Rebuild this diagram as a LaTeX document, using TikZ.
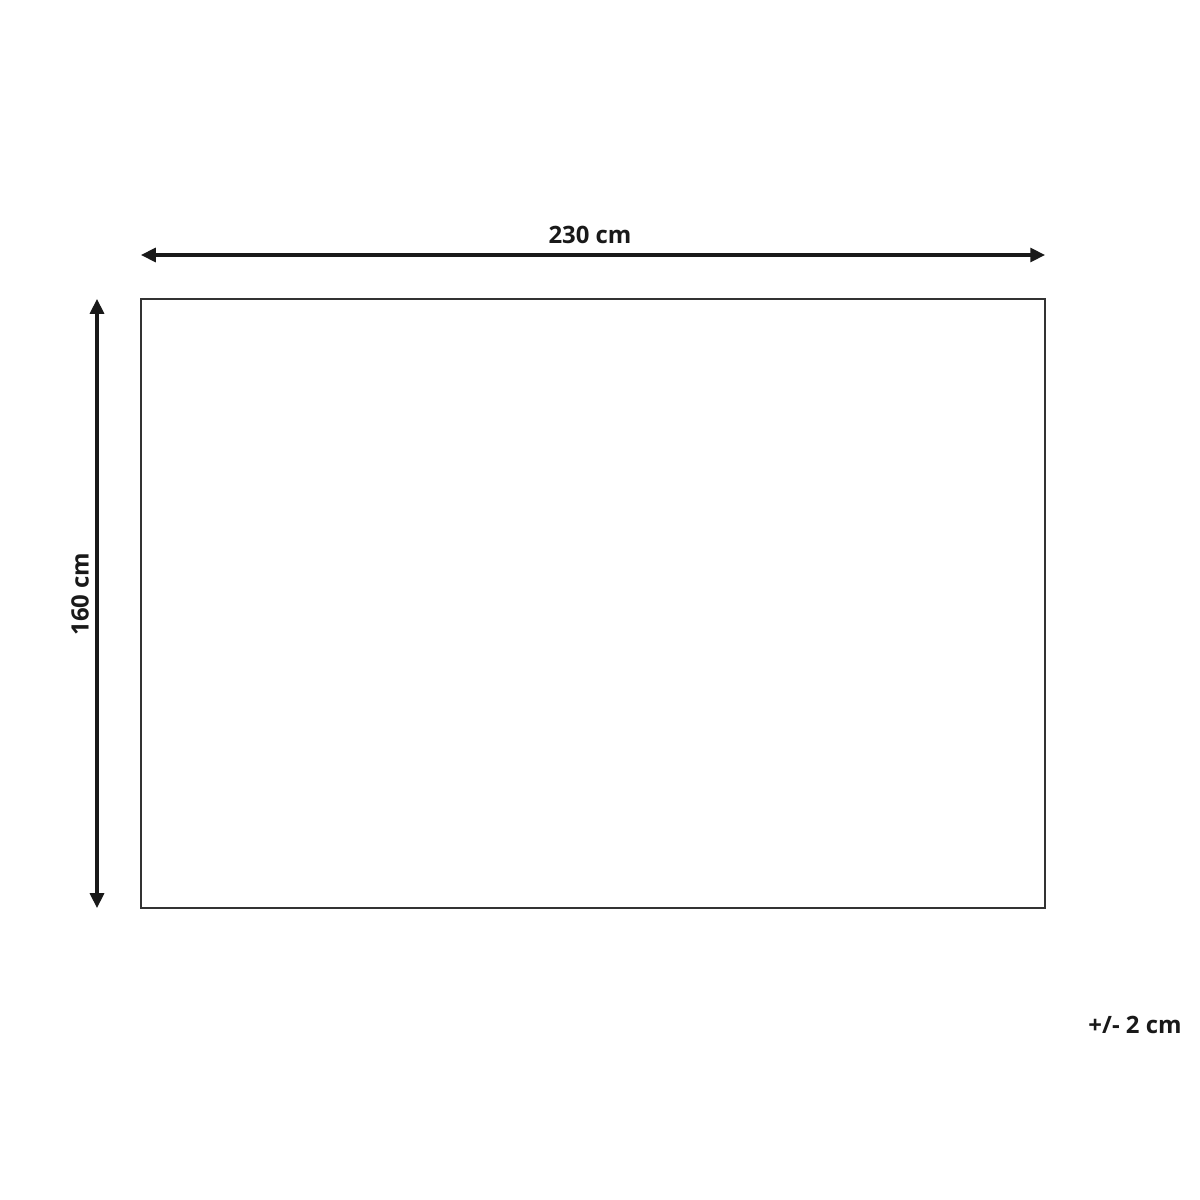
\documentclass[tikz,border=0pt]{standalone}
\usepackage{fontspec}
\setmainfont{Open Sans}
\usetikzlibrary{arrows.meta, positioning}
\tikzset{
  dimarrow/.style={line width=2.2pt, draw=black!90, {Triangle[length=10.5pt,width=10pt]}-{Triangle[length=10.5pt,width=10pt]}},
  dimlabel/.style={font=\bfseries\fontsize{17}{20}\selectfont, text=black!90, inner sep=0pt},
  rugline/.style={line width=1.1pt, draw=black!80},
}
\begin{document}
\begin{tikzpicture}[x=0.025cm,y=-0.025cm]
\useasboundingbox (0,0) rectangle (1200,1200);

% rug outline
\draw[rugline] (141,299) rectangle (1045,908);

% width
\coordinate (wleft) at (141,255);
\coordinate (wright) at (1045,255);
\draw[dimarrow] (wleft) -- (wright);
\node[dimlabel] (wlabel) at (590,235) {230 cm};

% length
\coordinate (ltop) at (97,299);
\coordinate (lbot) at (97,908);
\draw[dimarrow] (ltop) -- (lbot);
\node[dimlabel, rotate=90] (llabel) at (80,594) {160 cm};

% tolerance
\node[dimlabel] (tol) at (1135,1025) {+/- 2 cm};
\end{tikzpicture}
\end{document}
